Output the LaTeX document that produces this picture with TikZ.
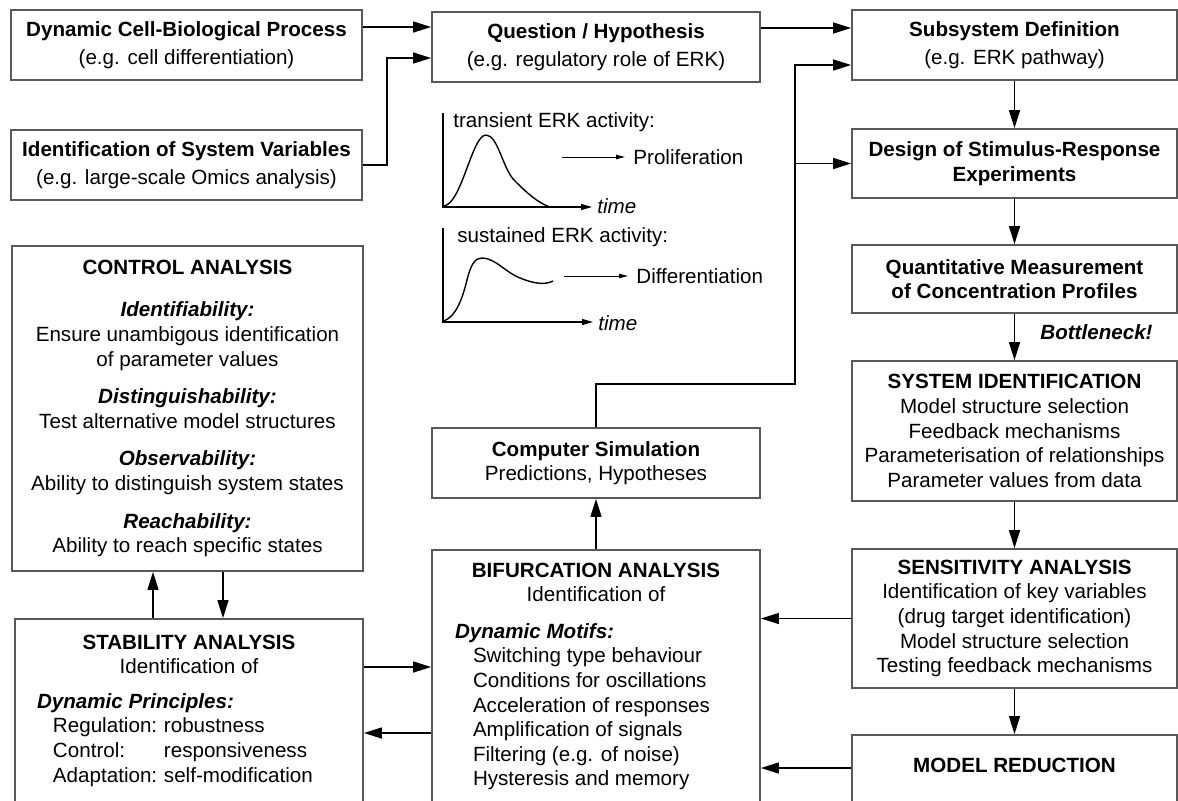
\documentclass[tikz,border=0pt]{standalone}
\usepackage{fontspec}
\setmainfont{Liberation Sans}
\usepackage{tikz}
\usetikzlibrary{shapes.geometric, arrows.meta}
\tikzstyle{plainbox} = [rectangle, draw=black!65, line width=0.8pt, align=center, inner sep=2pt]
\tikzstyle{widebox} = [plainbox, minimum width=175.5pt, minimum height=35pt]
\tikzstyle{midbox} = [plainbox, minimum width=164pt, minimum height=35pt]
\tikzstyle{sidebox} = [plainbox, minimum width=162.5pt]
\tikzstyle{tallbox} = [rectangle, draw=black!65, line width=0.8pt, inner sep=0pt]
\tikzstyle{arrow} = [line width=0.9pt,->,>={Triangle[length=9pt,width=5.4pt]}]
\tikzstyle{graphaxis} = [line width=0.6pt,->,>={Triangle[length=5.5pt,width=3pt]}]
\tikzstyle{thinarrow} = [line width=0.5pt,->,>={Triangle[length=4.5pt,width=2.2pt]}]
\tikzstyle{erkcurve} = [line width=0.7pt]
\tikzstyle{lbl} = [inner sep=0pt, anchor=west]
\newcommand{\bolditalic}[1]{\textbf{\textit{#1}}}

\begin{document}
\begin{tikzpicture}[node distance=100pt, font=\fontsize{10.3}{12.3}\selectfont]
\useasboundingbox (0,0) rectangle (589pt,-400pt);
\clip (0,0) rectangle (589pt,-400pt);
% top row
\node (proc) [widebox] at (93.25pt,-22.5pt) {\textbf{Dynamic Cell-Biological Process}\\[1.5pt](e.g. cell differentiation)};
\node (vars) [widebox, below of=proc, yshift=40pt] {\textbf{Identification of System Variables}\\[1.5pt](e.g. large-scale Omics analysis)};
\node (hyp) [midbox, right of=proc, xshift=104.75pt, yshift=-1pt] {\textbf{Question / Hypothesis}\\[1.5pt](e.g. regulatory role of ERK)};
\node (subsys) [sidebox, minimum height=35pt, right of=hyp, xshift=109.25pt, yshift=1pt] {\textbf{Subsystem Definition}\\[1.5pt](e.g. ERK pathway)};
% right column
\node (design) [sidebox, minimum height=34.5pt, below of=subsys, yshift=40.75pt] {\textbf{Design of Stimulus-Response}\\\textbf{Experiments}};
\node (quant) [sidebox, minimum height=34pt, below of=design, yshift=42.25pt] {\textbf{Quantitative Measurement}\\\textbf{of Concentration Profiles}};
\node (sysid) [sidebox, minimum height=70pt, below of=quant, yshift=24pt] {\textbf{SYSTEM IDENTIFICATION}\\Model structure selection\\Feedback mechanisms\\Parameterisation of relationships\\Parameter values from data};
\node (sens) [sidebox, minimum height=69.5pt, below of=sysid, yshift=6.25pt] {\textbf{SENSITIVITY ANALYSIS}\\Identification of key variables\\(drug target identification)\\Model structure selection\\Testing feedback mechanisms};
\node (modred) [tallbox, below of=sens, yshift=16.75pt] {\parbox[c][50pt][t]{162.5pt}{\centering\vspace*{11.3pt}\textbf{MODEL REDUCTION}}};
% left column
\node (control) [widebox, minimum height=162.5pt, below of=vars, yshift=-21.75pt, xshift=0.5pt] {\textbf{CONTROL ANALYSIS}\\[9pt]
  \bolditalic{Identifiability:}\\
  Ensure unambigous identification\\
  of parameter values\\[6.5pt]
  \bolditalic{Distinguishability:}\\
  Test alternative model structures\\[6.5pt]
  \bolditalic{Observability:}\\
  Ability to distinguish system states\\[6.5pt]
  \bolditalic{Reachability:}\\
  Ability to reach specific states};
\node (stab) [tallbox, below of=control, yshift=-60.5pt, xshift=0.75pt] {\parbox[c][110.5pt][t]{174pt}{\centering\vspace*{7.8pt}%
  \textbf{STABILITY ANALYSIS}\\
  Identification of\\[5pt]
  \makebox[\linewidth][l]{\hspace*{11pt}\bolditalic{Dynamic Principles:}}\\
  \makebox[\linewidth][l]{\hspace*{19pt}\makebox[55.5pt][l]{Regulation:}robustness}\\
  \makebox[\linewidth][l]{\hspace*{19pt}\makebox[55.5pt][l]{Control:}responsiveness}\\
  \makebox[\linewidth][l]{\hspace*{19pt}\makebox[55.5pt][l]{Adaptation:}self-modification}}};
% middle column
\node (compsim) [midbox, below of=hyp, yshift=-108pt] {\textbf{Computer Simulation}\\Predictions, Hypotheses};
\node (bif) [tallbox, below of=compsim, yshift=-16pt] {\parbox[c][145pt][t]{164pt}{\centering\vspace*{6.3pt}%
  \textbf{BIFURCATION ANALYSIS}\\
  Identification of\\[6pt]
  \makebox[\linewidth][l]{\hspace*{11.5pt}\bolditalic{Dynamic Motifs:}}\\
  \makebox[\linewidth][l]{\hspace*{20.5pt}Switching type behaviour}\\
  \makebox[\linewidth][l]{\hspace*{20.5pt}Conditions for oscillations}\\
  \makebox[\linewidth][l]{\hspace*{20.5pt}Acceleration of responses}\\
  \makebox[\linewidth][l]{\hspace*{20.5pt}Amplification of signals}\\
  \makebox[\linewidth][l]{\hspace*{20.5pt}Filtering (e.g. of noise)}\\
  \makebox[\linewidth][l]{\hspace*{20.5pt}Hysteresis and memory}}};
% ERK activity sketches
\begin{scope}[x=0.5pt, y=-0.5pt]
  \draw [graphaxis] (443,113) -- (443,207) -- (592,207);
  \draw [erkcurve] (444,206) .. controls (462,203) and (472,135) .. (486,135) .. controls (498,135) and (503,170) .. (515,181) .. controls (527,193) and (538,203) .. (550,207);
  \node (transient) [lbl] at (453,122) {transient ERK activity:};
  \node (time1) [lbl] at (597,206) {\textit{time}};
  \coordinate (p1) at (562,157);
  \node (prolif) [lbl] at (633,157) {Proliferation};
  \draw [thinarrow, shorten >=4pt] (p1) -- (prolif.west);
  \draw [graphaxis] (443,228) -- (443,322) -- (593,322);
  \draw [erkcurve] (444,321) .. controls (456,316) and (462,300) .. (467,280) .. controls (471,264) and (475,258) .. (482,258) .. controls (495,258) and (505,272) .. (520,278) .. controls (535,284) and (545,285) .. (553,281);
  \node (sustained) [lbl] at (457,237) {sustained ERK activity:};
  \node (time2) [lbl] at (598,323) {\textit{time}};
  \coordinate (p2) at (564,276);
  \node (diff) [lbl] at (636,276) {Differentiation};
  \draw [thinarrow, shorten >=4pt] (p2) -- (diff.west);
\end{scope}
% connectors
\draw [arrow] ([yshift=9pt]proc.east) -- ([yshift=9pt]proc.east -| hyp.west);
\draw [arrow] (vars.east) -- ++(12pt,0) |- ([yshift=-5.5pt]hyp.west);
\draw [arrow] ([yshift=9.5pt]hyp.east) -- ([yshift=9.5pt]hyp.east -| subsys.west);
\coordinate (fb) at ([xshift=99.5pt,yshift=21.5pt]compsim.north);
\draw [arrow] (compsim.north) |- (fb) |- ([yshift=-10pt]subsys.west);
\draw [arrow] (fb) |- (design.west);
\draw [arrow] (subsys) -- (design);
\draw [arrow] (design) -- (quant);
\draw [arrow] (quant) -- node [lbl, pos=0.4, xshift=12.5pt] (bneck) {\bolditalic{Bottleneck!}} (sysid);
\draw [arrow] (sysid) -- (sens);
\draw [arrow] (sens) -- (modred);
\draw [arrow] (sens.west) -- (sens.west -| bif.east);
\draw [arrow] ([yshift=8.5pt]modred.west) -- ([yshift=8.5pt]modred.west -| bif.east);
\draw [arrow] (bif) -- (compsim);
\draw [arrow] ([yshift=14pt]bif.west -| stab.east) -- ([yshift=14pt]bif.west);
\draw [arrow] ([yshift=-19pt]bif.west) -- ([yshift=-19pt]bif.west -| stab.east);
\draw [arrow] ([xshift=-18pt]stab.north) -- ([xshift=-18pt]stab.north |- control.south);
\draw [arrow] ([xshift=17pt]stab.north |- control.south) -- ([xshift=17pt]stab.north);
\end{tikzpicture}
\end{document}
